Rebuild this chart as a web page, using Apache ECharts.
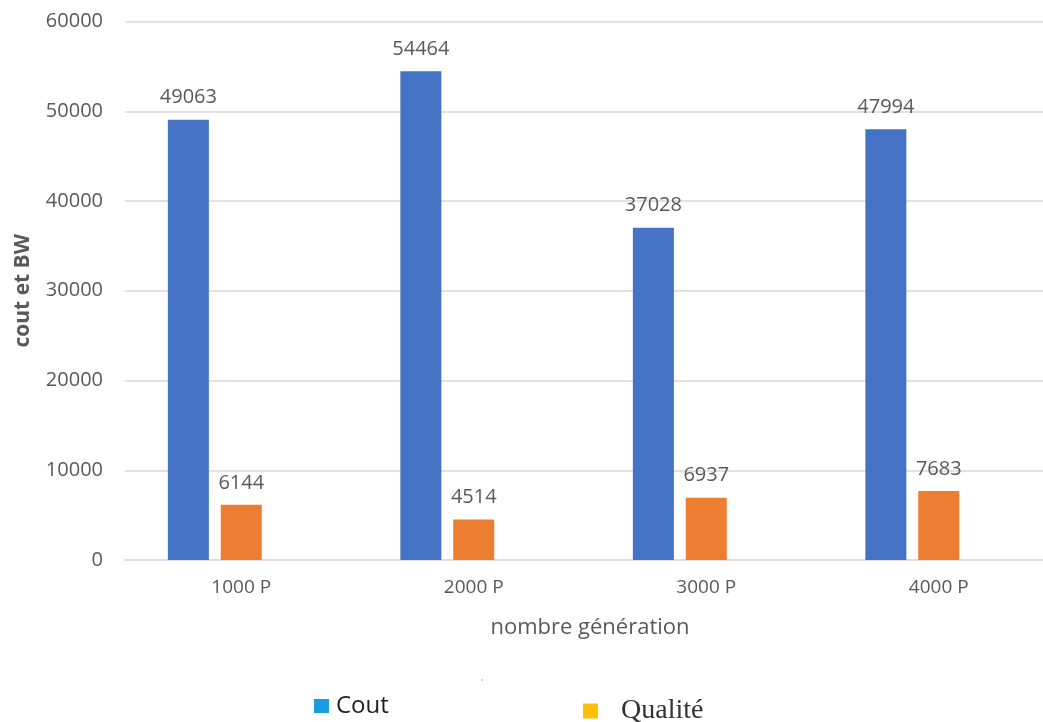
<!DOCTYPE html>
<html><head><meta charset="utf-8">
<script src="https://cdn.jsdelivr.net/npm/echarts@6/dist/echarts.min.js"></script>
<style>html,body{margin:0;padding:0;background:#fff}#c{width:1043px;height:722px}</style>
</head><body><div id="c"></div>
<script>
const categories = ['1000 P', '2000 P', '3000 P', '4000 P'];
const coutValues = [49063, 54464, 37028, 47994];
const qualiteValues = [6144, 4514, 6937, 7683];
const emptyValues = [null, null, null, null];
const yTicks = { min: 0, max: 60000, interval: 10000 };

const font = 'Open Sans';
const grey = '#595959';
const chart = echarts.init(document.getElementById('c'));
const labelCfg = { show: true, position: 'top', distance: 12, color: grey, fontFamily: font, fontSize: 20 };
chart.setOption({
  animation: false,
  grid: { left: 125, right: -12, top: 21.5, bottom: 162, outerBoundsMode: 'none', containLabel: false },
  xAxis: {
    type: 'category', data: categories,
    axisTick: { show: false },
    axisLine: { lineStyle: { color: '#d9d9d9', width: 1.5 } },
    axisLabel: { color: grey, fontFamily: font, fontSize: 19, margin: 18 },
    name: 'nombre génération', nameLocation: 'middle', nameGap: 57,
    nameTextStyle: { color: grey, fontFamily: font, fontSize: 22 }
  },
  yAxis: {
    type: 'value', min: yTicks.min, max: yTicks.max, interval: yTicks.interval,
    axisLine: { show: false }, axisTick: { show: false },
    splitLine: { lineStyle: { color: '#d9d9d9', width: 1.5 } },
    axisLabel: { color: grey, fontFamily: font, fontSize: 20, margin: 22, formatter: v => String(v) },
    name: 'cout et BW', nameLocation: 'middle', nameGap: 91, nameRotate: 90,
    nameTextStyle: { color: grey, fontFamily: font, fontSize: 21, fontWeight: 'bold' }
  },
  legend: [
    { data: [{ name: 'Cout', itemStyle: { color: '#1a9be3' } }], left: 309, top: 689,
      icon: 'rect', itemWidth: 15, itemHeight: 14,
      textStyle: { color: '#222', fontFamily: font, fontSize: 24, padding: [0, 0, 0, 2] } },
    { data: [{ name: 'Qualité', itemStyle: { color: '#ffc000' } }], left: 578, top: 692,
      icon: 'rect', itemWidth: 15, itemHeight: 15,
      textStyle: { color: '#333', fontFamily: 'Liberation Serif', fontSize: 28, padding: [0, 0, 0, 18] } }
  ],
  series: [
    { name: 'Cout', type: 'bar', data: coutValues, barWidth: 41, barGap: '29%',
      itemStyle: { color: '#4472c4' }, label: labelCfg },
    { name: 'Qualité', type: 'bar', data: qualiteValues, barWidth: 41, barGap: '29%',
      itemStyle: { color: '#ed7d31' }, label: labelCfg },
    { name: '_empty', type: 'bar', data: emptyValues, barWidth: 41, barGap: '29%' }
  ],
  graphic: [{ type: 'circle', shape: { cx: 482, cy: 680, r: 0.8 }, style: { fill: '#999' } }]
});
</script></body></html>
